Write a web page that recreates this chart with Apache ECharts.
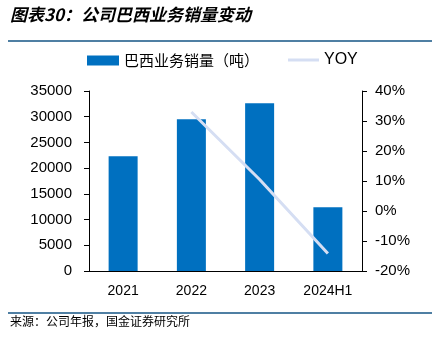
<!DOCTYPE html>
<html>
<head>
<meta charset="utf-8">
<script src="https://cdn.jsdelivr.net/npm/echarts@6/dist/echarts.min.js"></script>
<style>
  html, body { margin: 0; padding: 0; background: #fff; }
  #chart { width: 432px; height: 339px; }
</style>
</head>
<body>
<div id="chart"></div>
<script>
// Brazil business sales volume (tonnes) and year-over-year change
const categories = ['2021', '2022', '2023', '2024H1'];
const salesVolume = [22300, 29500, 32600, 12400];
const yoyPercent = [null, 33.0, 10.5, -14.2];
const leftTicks = [0, 5000, 10000, 15000, 20000, 25000, 30000, 35000];
const rightTicks = [-20, -10, 0, 10, 20, 30, 40];

const latin = 'Liberation Sans, Arial, sans-serif';
const cjk = '"Noto Sans CJK SC", sans-serif';

const chart = echarts.init(document.getElementById('chart'), null, { renderer: 'canvas' });

chart.setOption({
  animation: false,
  backgroundColor: '#ffffff',
  grid: { left: 89, right: 70, top: 91, bottom: 68, containLabel: false },
  graphic: [
    {
      type: 'text', left: 10, top: 6,
      style: {
        text: '图表30：公司巴西业务销量变动',
        font: 'italic bold 17px ' + cjk,
        fill: '#000'
      }
    },
    {
      type: 'rect', shape: { x: 8, y: 40, width: 424, height: 2 },
      style: { fill: '#4f7fa3' }
    },
    {
      type: 'rect', shape: { x: 8, y: 312, width: 424, height: 2 },
      style: { fill: '#4f7fa3' }
    },
    {
      type: 'text', left: 10, top: 315,
      style: {
        text: '来源：公司年报，国金证券研究所',
        font: '12px ' + cjk,
        fill: '#000'
      }
    }
  ],
  legend: [
    {
      data: [{ name: '巴西业务销量（吨）', icon: 'rect' }],
      left: 87, top: 53, padding: 0,
      itemWidth: 32, itemHeight: 10, itemGap: 5,
      textStyle: { fontFamily: cjk, fontSize: 15, color: '#000' }
    },
    {
      data: [{ name: 'YOY', icon: 'rect' }],
      left: 288, top: 52, padding: 0,
      itemWidth: 31, itemHeight: 3, itemGap: 5,
      textStyle: { fontFamily: latin, fontSize: 16, color: '#000' }
    }
  ],
  xAxis: {
    type: 'category',
    data: categories,
    axisLine: { lineStyle: { color: '#000', width: 1 } },
    axisTick: { show: false },
    axisLabel: { fontFamily: latin, fontSize: 14, color: '#000', margin: 13, interval: 0 }
  },
  yAxis: [
    {
      type: 'value', min: 0, max: 35000, interval: 5000,
      axisLine: { show: true, lineStyle: { color: '#000' } },
      axisTick: { show: true, inside: false, length: 5, lineStyle: { color: '#000' } },
      axisLabel: {
        fontFamily: latin, fontSize: 15, color: '#000', margin: 17,
        formatter: v => leftTicks.includes(v) ? String(v) : ''
      },
      splitLine: { show: false }
    },
    {
      type: 'value', min: -20, max: 40, interval: 10, position: 'right',
      axisLine: { show: true, lineStyle: { color: '#000' } },
      axisTick: { show: true, inside: false, length: 5, lineStyle: { color: '#000' } },
      axisLabel: {
        fontFamily: latin, fontSize: 15, color: '#000', margin: 13,
        formatter: v => rightTicks.includes(v) ? v + '%' : ''
      },
      splitLine: { show: false }
    }
  ],
  series: [
    {
      name: '巴西业务销量（吨）',
      type: 'bar',
      data: salesVolume,
      barWidth: 29,
      itemStyle: { color: '#0070c0' },
      yAxisIndex: 0
    },
    {
      name: 'YOY',
      type: 'line',
      data: yoyPercent,
      yAxisIndex: 1,
      symbol: 'none',
      connectNulls: false,
      lineStyle: { color: '#d5def3', width: 3 },
      itemStyle: { color: '#d5def3' }
    }
  ]
});
</script>
</body>
</html>
